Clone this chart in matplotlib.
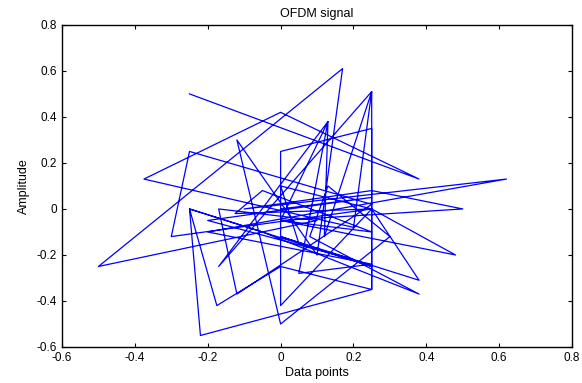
import matplotlib
matplotlib.use("Agg")
import matplotlib.pyplot as plt
import numpy as np

plt.rcParams['font.family'] = ['Liberation Sans', 'DejaVu Sans']

re = [-0.25, 0.38, 0.00, -0.375, 0.20, 0.25, 0.12, 0.13, 0.05, 0.25,
      -0.20, 0.62, -0.10, 0.25, 0.50, 0.00, 0.48, 0.25, 0.38, 0.00,
      0.25, -0.25, -0.22, 0.25, 0.25, 0.00, 0.00, 0.25, -0.30, -0.25,
      0.25, -0.12, -0.17, 0.10, -0.50, 0.17, 0.10, -0.12, 0.00, 0.30,
      0.13, 0.08, 0.38, -0.05, -0.25, -0.175, 0.00, 0.25, 0.25, -0.17,
      0.13, 0.00, 0.25, -0.05, -0.125, 0.25, 0.00, 0.05, 0.20, -0.20,
      0.25, 0.00]
im = [0.50, 0.13, 0.42, 0.13, -0.08, 0.51, -0.12, 0.38, -0.28, -0.24,
      -0.10, 0.13, 0.00, 0.08, 0.00, -0.05, -0.20, 0.00, -0.31, -0.12,
      -0.25, 0.00, -0.55, -0.35, 0.35, 0.25, -0.42, 0.00, -0.12, 0.25,
      0.02, -0.37, 0.00, -0.05, -0.25, 0.61, -0.20, 0.30, -0.50, -0.12,
      0.10, -0.12, -0.37, -0.10, 0.00, -0.42, -0.25, -0.35, 0.51, -0.25,
      0.38, -0.05, -0.10, 0.08, -0.02, 0.00, 0.10, -0.15, -0.22, -0.05,
      0.05, 0.00]

fig = plt.figure(figsize=(5.82, 3.83), dpi=100)
ax = fig.add_axes([0.1065, 0.094, 0.8765, 0.841])
ax.plot(re, im, color='#0000ff', linewidth=0.9)

ax.set_xlim(-0.6, 0.8)
ax.set_ylim(-0.6, 0.8)
ax.set_xticks(np.arange(-0.6, 0.81, 0.2))
ax.set_yticks(np.arange(-0.6, 0.81, 0.2))
ax.set_xticklabels(['-0.6', '-0.4', '-0.2', '0', '0.2', '0.4', '0.6', '0.8'])
ax.set_yticklabels(['-0.6', '-0.4', '-0.2', '0', '0.2', '0.4', '0.6', '0.8'])
ax.tick_params(direction='in', length=3, labelsize=8.5, top=True, right=True,
               labeltop=False, labelright=False)
for s in ax.spines.values():
    s.set_linewidth(1.0)

ax.set_title("OFDM signal", fontsize=9, pad=6)
ax.set_xlabel("Data points", fontsize=9, labelpad=2)
ax.set_ylabel("Amplitude", fontsize=9, labelpad=5)

fig.savefig("out.png", dpi=100)
